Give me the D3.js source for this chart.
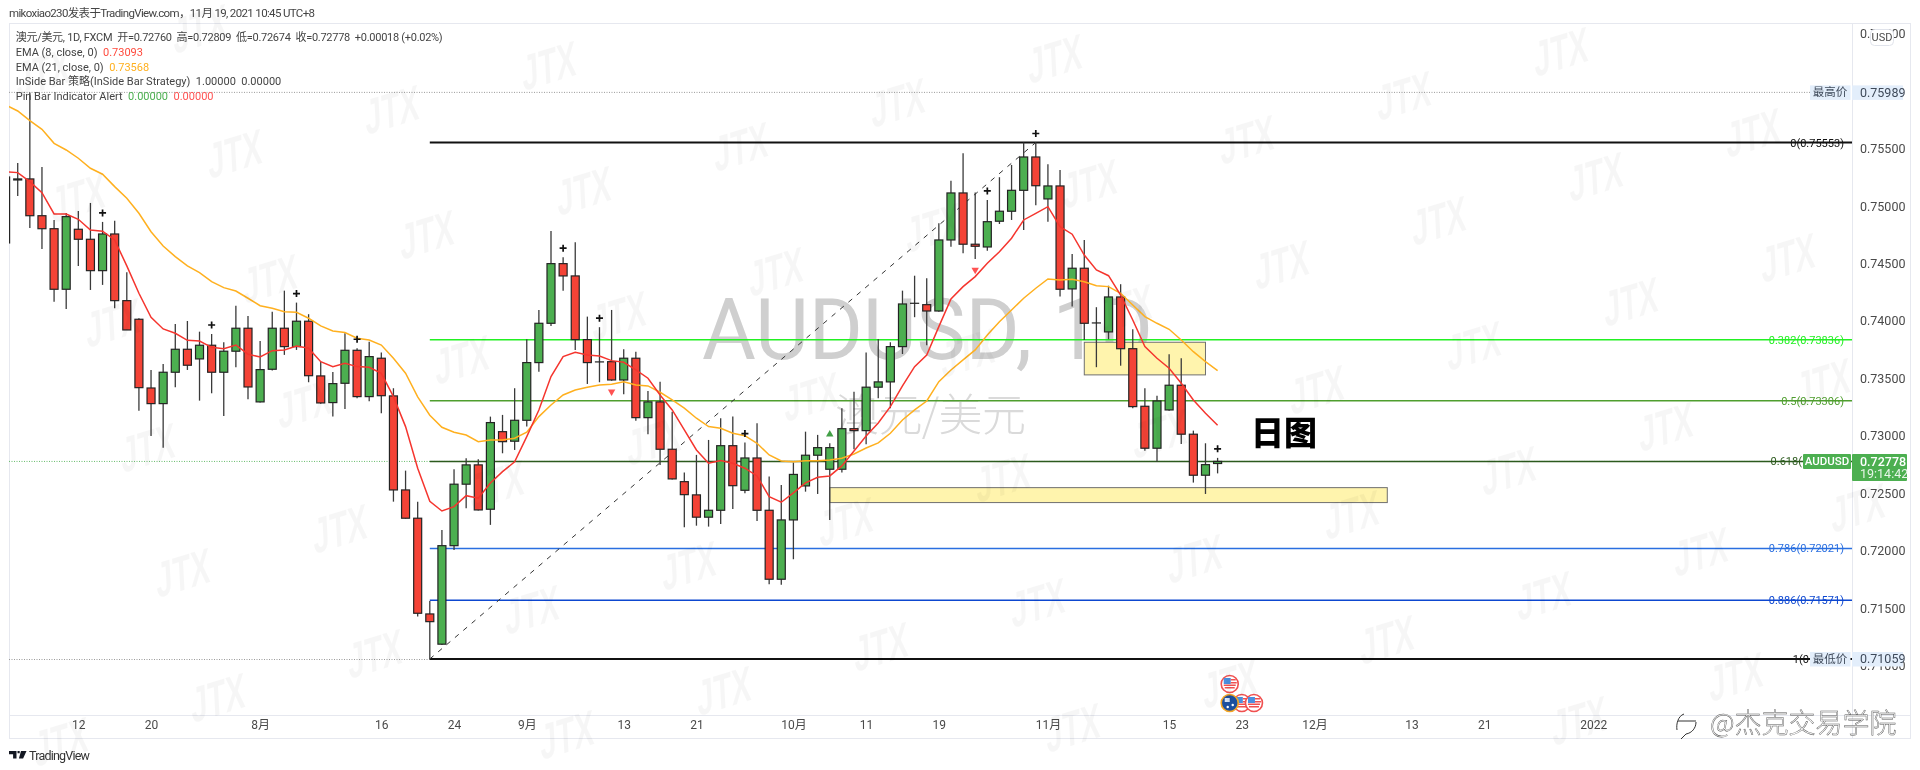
<!DOCTYPE html>
<html lang="zh">
<head>
<meta charset="utf-8">
<title>AUDUSD 1D</title>
<script src="https://cdn.jsdelivr.net/npm/d3@7/dist/d3.min.js"></script>
<style>
html,body{margin:0;padding:0;background:#fff;}
svg{display:block;filter:blur(.35px);}
text{font-family:Roboto,"Noto Sans CJK SC",sans-serif;}
</style>
</head>
<body>
<svg id="chart" width="1920" height="770"></svg>
<script>
const opens = [
.74679,.75227,.75236,.74916,.74803,.74276,.74798,.74711,.74438,.74757,
.74177,.74015,.73417,.73281,.73554,.73754,.73670,.73789,.73554,.73737,
.73937,.73296,.73580,.73937,.73777,.73998,.73522,.73290,.73458,.73745,
.73342,.73676,.73348,.72530,.72284,.71451,.71188,.72045,.72580,.72748,
.72362,.73037,.72954,.73136,.73638,.73980,.74499,.74392,.73838,.73644,
.73646,.73487,.73676,.73159,.73296,.72884,.72602,.72487,.72293,.72353,
.72915,.72527,.72808,.72353,.71753,.72269,.72565,.72832,.72710,.72710,
.73063,.73046,.73424,.73470,.73777,.74154,.74142,.74087,.74705,.75114,
.74668,.74644,.74868,.74955,.75137,.75427,.75062,.75175,.74279,.74459,
.73983,.73905,.74209,.73759,.73258,.72893,.73226,.73441,.73015,.72658,.72760];
const highs = [
.75350,.75375,.75989,.75340,.74879,.74940,.74957,.75027,.74862,.74873,
.74424,.74024,.73574,.73626,.73974,.74000,.73907,.73887,.73815,.74133,
.74044,.73826,.74081,.74264,.74160,.74059,.73646,.73557,.73893,.73763,
.73820,.73725,.73415,.72698,.72428,.71564,.72182,.72710,.72806,.72797,
.73168,.73183,.73415,.73841,.74096,.74783,.74555,.74685,.74038,.73946,
.74096,.73754,.73733,.73391,.73472,.73211,.72681,.72835,.72965,.73154,
.73168,.72942,.73110,.72646,.72574,.72768,.73037,.73009,.72936,.73241,
.73385,.73725,.73844,.73815,.74264,.74394,.74372,.74850,.75221,.75459,
.75117,.75053,.75251,.75358,.75553,.75553,.75364,.75314,.74583,.74705,
.74120,.74307,.74320,.73928,.73415,.73350,.73711,.73676,.73046,.72936,.72809];
const lows = [
.74600,.75088,.74809,.74627,.74168,.74105,.74479,.74270,.74314,.74111,
.73922,.73220,.73000,.72898,.73424,.73574,.73307,.73371,.73174,.73598,
.73319,.73290,.73570,.73705,.73748,.73467,.73280,.73168,.73235,.73328,
.73302,.73197,.72428,.72280,.71428,.71059,.71180,.72008,.72371,.72350,
.72226,.72849,.72878,.73081,.73559,.73957,.74264,.73748,.73452,.73467,
.73480,.73363,.73133,.73015,.72748,.72620,.72206,.72219,.72211,.72234,
.72365,.72501,.72260,.71710,.71704,.71927,.72515,.72495,.72269,.72681,
.72884,.72928,.73328,.73241,.73713,.74033,.73789,.74080,.74647,.74589,
.74540,.74612,.74844,.74879,.74792,.75007,.74864,.74212,.74125,.73835,
.73598,.73841,.73611,.73241,.72872,.72776,.73220,.72930,.72594,.72495,.72674];
const closes = [
.75253,.75236,.74916,.74803,.74276,.74908,.74711,.74438,.74757,.74177,
.73922,.73420,.73281,.73554,.73754,.73615,.73789,.73554,.73737,.73937,
.73426,.73577,.73937,.73777,.73998,.73524,.73287,.73455,.73745,.73342,
.73690,.73350,.72530,.72284,.71457,.71384,.72045,.72580,.72748,.72356,
.73116,.72950,.73136,.73638,.73980,.74499,.74392,.73838,.73638,.73644,
.73487,.73676,.73159,.73296,.72884,.72626,.72489,.72293,.72353,.72915,
.72567,.72808,.72353,.71753,.72269,.72665,.72832,.72898,.72898,.73063,
.73046,.73424,.73470,.73777,.74148,.74154,.74087,.74705,.75114,.74668,
.74650,.74864,.74955,.75137,.75427,.75177,.75175,.74276,.74459,.73980,
.73983,.74209,.73759,.73255,.72893,.73304,.73441,.73015,.72658,.72750,.72778];
const ema8 = [
.75297,.75291,.75212,.75117,.74931,.74931,.74885,.74792,.74781,.74705,
.74479,.74241,.74032,.73931,.73893,.73832,.73826,.73771,.73759,.73791,
.73711,.73687,.73742,.73748,.73783,.73763,.73646,.73603,.73632,.73603,
.73597,.73545,.73342,.73081,.72719,.72431,.72347,.72385,.72480,.72458,
.72591,.72689,.72774,.72994,.73226,.73516,.73690,.73728,.73704,.73696,
.73655,.73641,.73574,.73502,.73356,.73226,.73052,.72878,.72762,.72785,
.72762,.72719,.72652,.72472,.72423,.72504,.72591,.72640,.72652,.72739,
.72869,.73000,.73113,.73255,.73435,.73603,.73704,.73951,.74192,.74299,
.74386,.74502,.74603,.74720,.74879,.74937,.74995,.74821,.74755,.74574,
.74444,.74394,.74226,.74009,.73777,.73676,.73589,.73458,.73313,.73197,.73093];
const ema21 = [
.75879,.75827,.75743,.75668,.75546,.75488,.75416,.75329,.75277,.75169,
.75068,.74937,.74777,.74653,.74560,.74479,.74421,.74342,.74290,.74261,
.74198,.74133,.74111,.74081,.74076,.74024,.73957,.73913,.73899,.73850,
.73835,.73791,.73676,.73545,.73339,.73180,.73075,.73032,.73008,.72950,
.72965,.72965,.72980,.73032,.73168,.73269,.73356,.73400,.73423,.73443,
.73450,.73472,.73443,.73435,.73380,.73313,.73241,.73154,.73081,.73067,
.73023,.73002,.72936,.72834,.72782,.72776,.72785,.72785,.72791,.72806,
.72843,.72895,.72939,.73023,.73139,.73226,.73304,.73472,.73574,.73661,
.73748,.73878,.73994,.74096,.74198,.74285,.74366,.74357,.74363,.74342,
.74307,.74299,.74241,.74139,.74038,.73980,.73928,.73835,.73733,.73646,.73568];

const fibPrices = [.75553,.73836,.73306,.72778,.72021,.71571,.71059];
const fibColors = ["#111111","#22f022","#4f9e2e","#2c5a1e","#2a6fe0","#0d47d0","#111111"];
const fibLabels = ["0(0.75553)","0.382(0.73836)","0.5(0.73306)","0.618(","0.786(0.72021)","0.886(0.71571)","1(0"];
const priceTicks = [.765,.755,.75,.745,.74,.735,.73,.725,.72,.715,.71];
const timeTickBars = [6,12,21,31,37,43,51,57,65,71,77,86,96,102,108,116,122,131];
const timeTickLabels = ["12","20","8月","16","24","9月","13","21","10月","11","19","11月","15","23","12月","13","21","2022"];
const plusBars = [8,17,24,29,46,49,61,81,85,100];
const sellBars = [50,80];
const buyBars = [68];
const boxBarStart = [89,68];
const boxBarEnd = [99,114];
const boxTop = [.73815,.72550];
const boxBottom = [.73531,.72420];
const legendTitle = "澳元/美元, 1D, FXCM  开=0.72760  高=0.72809  低=0.72674  收=0.72778  +0.00018 (+0.02%)";

const svg = d3.select("#chart");
const x = d3.scaleLinear().domain([0,100]).range([5.6,1217.6]);
const y = d3.scaleLinear().domain([.71059,.75553]).range([659,142.5]);
const bars = opens.map((o,i)=>({i,o,h:highs[i],l:lows[i],c:closes[i]}));
const GREEN="#4caf50", RED="#f44336";

svg.append("defs").append("clipPath").attr("id","pane").append("rect")
  .attr("x",9).attr("y",24).attr("width",1843).attr("height",691);

// frame
const frame = svg.append("g").attr("fill","none").attr("stroke","#e6e8ef").attr("stroke-width",1);
frame.append("rect").attr("x",9.5).attr("y",23.5).attr("width",1901).attr("height",715);
frame.append("line").attr("x1",1852.5).attr("x2",1852.5).attr("y1",23).attr("y2",739);
frame.append("line").attr("x1",9).attr("x2",1911).attr("y1",715.5).attr("y2",715.5);

const pane = svg.append("g").attr("clip-path","url(#pane)");

// big symbol watermark
pane.append("text").attr("x",702).attr("y",359).attr("font-size",85).attr("fill","#cfcfcf")
  .attr("textLength",451).attr("lengthAdjust","spacingAndGlyphs")
  .style("font-family","Roboto,sans-serif").text("AUDUSD, 1D");
pane.append("text").attr("x",835).attr("y",431).attr("font-size",44).attr("fill","#dadada")
  .attr("textLength",191).style("font-family","'Noto Sans CJK SC',sans-serif").style("font-weight",300).text("澳元/美元");

// dotted reference lines
const dotted = pane.append("g").attr("fill","none").attr("stroke-width",1);
dotted.append("line").attr("x1",9).attr("x2",1810).attr("y1",y(.75989)).attr("y2",y(.75989))
  .attr("stroke","#9a9a9a").attr("stroke-dasharray","1,1.5");
dotted.append("line").attr("x1",9).attr("x2",1810).attr("y1",y(.71059)+.5).attr("y2",y(.71059)+.5)
  .attr("stroke","#9a9a9a").attr("stroke-dasharray","1,1.5");
dotted.append("line").attr("x1",9).attr("x2",1852).attr("y1",y(.72778)).attr("y2",y(.72778))
  .attr("stroke","#66bb6a").attr("stroke-dasharray","1,1.5");

// yellow rectangles
pane.append("g").selectAll("rect").data(boxTop).join("rect")
  .attr("x",(d,i)=>x(boxBarStart[i])).attr("width",(d,i)=>x(boxBarEnd[i])-x(boxBarStart[i]))
  .attr("y",d=>y(d)).attr("height",(d,i)=>y(boxBottom[i])-y(d))
  .attr("fill","#fff4ad").attr("stroke","#6f6f6f").attr("stroke-width",1);

// fib levels
pane.append("g").selectAll("line").data(fibPrices).join("line")
  .attr("x1",x(35)).attr("x2",1852).attr("y1",d=>y(d)).attr("y2",d=>y(d))
  .attr("stroke",(d,i)=>fibColors[i]).attr("stroke-width",(d,i)=>(i===0||i===6)?1.8:1.5);
pane.append("line").attr("x1",x(35)).attr("y1",y(.71059)).attr("x2",x(85)).attr("y2",y(.75553))
  .attr("stroke","#333").attr("stroke-width",1).attr("stroke-dasharray","5,6");

// candles
const cg = pane.append("g");
cg.selectAll("line").data(bars).join("line")
  .attr("x1",d=>x(d.i)).attr("x2",d=>x(d.i)).attr("y1",d=>y(d.h)).attr("y2",d=>y(d.l))
  .attr("stroke","#3a3a3a").attr("stroke-width",1.3);
cg.selectAll("rect").data(bars).join("rect")
  .attr("x",d=>x(d.i)-4).attr("width",8)
  .attr("y",d=>y(Math.max(d.o,d.c)))
  .attr("height",d=>Math.max(.01,y(Math.min(d.o,d.c))-y(Math.max(d.o,d.c))))
  .attr("fill",d=>d.c>=d.o?GREEN:RED).attr("stroke","#242424").attr("stroke-width",1.2);

// EMAs
const line = d3.line().x((d,i)=>x(i)).y(d=>y(d));
pane.append("path").datum(ema21).attr("d",line).attr("fill","none").attr("stroke","#ffb01f").attr("stroke-width",1.5);
pane.append("path").datum(ema8).attr("d",line).attr("fill","none").attr("stroke","#f5352e").attr("stroke-width",1.5);

// markers
pane.append("g").selectAll("path").data(plusBars).join("path")
  .attr("transform",d=>`translate(${x(d)},${y(highs[d])-9})`)
  .attr("d","M-3.5,0H3.5M0,-3.5V3.5").attr("stroke","#111").attr("stroke-width",1.7).attr("fill","none");
const tri = d3.symbol(d3.symbolTriangle,24);
pane.append("g").selectAll("path").data(sellBars).join("path")
  .attr("transform",d=>`translate(${x(d)},${y(lows[d])+11}) rotate(180)`).attr("d",tri).attr("fill","#ff5252");
pane.append("g").selectAll("path").data(buyBars).join("path")
  .attr("transform",d=>`translate(${x(d)},${y(highs[d])-9})`).attr("d",tri).attr("fill","#43a047");

// fib labels: the last price tag hides the tail of two of them, so they end before it
pane.append("g").selectAll("text").data(fibLabels).join("text")
  .attr("x",d=>d==="0.618("?1802:(d==="1(0"?1809:1844)).attr("y",(d,i)=>y(fibPrices[i])+4).attr("text-anchor","end")
  .attr("font-size",11).attr("fill",(d,i)=>fibColors[i]).text(d=>d);

// annotation
svg.append("text").attr("x",1251).attr("y",445).attr("font-size",33).attr("font-weight",900).attr("fill","#000")
  .style("font-family","'Noto Sans CJK SC',sans-serif").text("日图");

// event icons
function usIcon(g,cx,cy){
  const n=g.append("g").attr("transform",`translate(${cx},${cy})`);
  n.append("circle").attr("r",8.5).attr("fill","#fff").attr("stroke","#f05050").attr("stroke-width",1.6);
  n.append("rect").attr("x",-6).attr("y",-6).attr("width",7).attr("height",6).attr("fill","#4a8fe0");
  [[-6,.5,12],[1,-5,5],[1,-2,6],[-5,3,10]].forEach(s=>n.append("rect").attr("x",s[0]).attr("y",s[1]).attr("width",s[2]).attr("height",1.5).attr("fill","#f05050"));
}
const ev = svg.append("g");
usIcon(ev,x(101),684);
usIcon(ev,x(102),703);
usIcon(ev,x(103),703);
const au=ev.append("g").attr("transform",`translate(${x(101)},703)`);
au.append("circle").attr("r",8.5).attr("fill","#1d4f9e").attr("stroke","#f5a623").attr("stroke-width",1.6);
au.append("rect").attr("x",-5).attr("y",-5).attr("width",5).attr("height",4).attr("fill","#d8e4f5");
au.append("circle").attr("cx",3).attr("cy",2).attr("r",1.2).attr("fill","#fff");
au.append("circle").attr("cx",-2).attr("cy",4).attr("r",1.2).attr("fill","#fff");

// axes
const yAxis = svg.append("g").attr("transform","translate(1860,0)")
  .call(d3.axisRight(y).tickValues(priceTicks).tickSize(0).tickPadding(0).tickFormat(d3.format(".5f")));
yAxis.select(".domain").remove();
yAxis.selectAll("text").attr("font-size",12.5).attr("fill","#4a4a4a").style("font-family","Roboto,sans-serif");
const xAxis = svg.append("g").attr("transform","translate(0,720)")
  .call(d3.axisBottom(x).tickValues(timeTickBars).tickSize(0).tickPadding(0).tickFormat((d,i)=>timeTickLabels[i]));
xAxis.select(".domain").remove();
xAxis.selectAll("text").attr("font-size",12).attr("fill","#4a4a4a").style("font-family","Roboto,'Noto Sans CJK SC',sans-serif");

// price tags
function tag(xp,w,yt,h,fill){ return svg.append("rect").attr("x",xp).attr("y",yt).attr("width",w).attr("height",h).attr("fill",fill); }
[[.75989,"最高价"],[.71059,"最低价"]].forEach(([p,name])=>{
  const c=y(p);
  tag(1810,40.5,c-7,14.5,"#e3eefb");
  tag(1852,51,c-7,14.5,"#e3eefb");
  svg.append("text").attr("x",1830).attr("y",c+4).attr("text-anchor","middle").attr("font-size",11.5).attr("fill","#3f4a5a").text(name);
  svg.append("text").attr("x",1860).attr("y",c+4.3).attr("font-size",12.5).attr("fill","#3f4a5a").text(d3.format(".5f")(p));
});
const cy = y(.72778);
tag(1803,48,cy-7.5,15,GREEN).attr("rx",1);
svg.append("text").attr("x",1827).attr("y",cy+4).attr("text-anchor","middle").attr("font-size",11.5).attr("font-weight",500).attr("fill","#fff").text("AUDUSD");
tag(1852,55,cy-7.5,27,GREEN).attr("rx",1);
svg.append("text").attr("x",1860).attr("y",cy+4.3).attr("font-size",12.5).attr("font-weight",500).attr("fill","#fff").text("0.72778");
svg.append("text").attr("x",1860).attr("y",cy+16.5).attr("font-size",12.5).attr("fill","#e7f5e8").text("19:14:42");
svg.append("rect").attr("x",1870.5).attr("y",29.5).attr("width",23).attr("height",16).attr("rx",4).attr("fill","#fff").attr("stroke","#e0e3eb");
svg.append("text").attr("x",1882).attr("y",41).attr("text-anchor","middle").attr("font-size",11).attr("fill","#4a4a4a").text("USD");

// header and legend
const ink="#444";
svg.append("text").attr("x",9).attr("y",17).attr("font-size",11.5).attr("fill",ink).attr("textLength",306)
  .text("mikoxiao230发表于TradingView.com，11月 19, 2021 10:45 UTC+8");
const lg = svg.append("g").attr("font-size",11).attr("fill",ink);
lg.append("text").attr("x",15.7).attr("y",41).attr("textLength",427).style("white-space","pre").text(legendTitle);
function legendRow(yp,parts){
  const t=lg.append("text").attr("x",15.7).attr("y",yp).style("white-space","pre");
  parts.forEach(([s,c])=>{const sp=t.append("tspan").text(s); if(c) sp.attr("fill",c);});
}
legendRow(56,[["EMA (8, close, 0)  "],["0.73093","#ff4a3d"]]);
legendRow(70.5,[["EMA (21, close, 0)  "],["0.73568","#ffb01f"]]);
legendRow(85,[["InSide Bar 策略(InSide Bar Strategy)  1.00000  0.00000"]]);
legendRow(100,[["Pin Bar Indicator Alert  "],["0.00000","#4caf50"],["  "],["0.00000","#ff5252"]]);

// TradingView logo
const tv = svg.append("g").attr("fill","#131722");
tv.append("path").attr("d","M9 751h7.5v7.5h-3.4v-4.3H9zM17.5 751h2.2v2.2h-2.2zM21 751h5.5l-3.4 7.5h-4.2z");
svg.append("text").attr("x",29).attr("y",759.5).attr("font-size",12.5).attr("fill","#333").attr("textLength",61).text("TradingView");

// tiled logo overlay
const wm = svg.append("g").attr("fill","#000").attr("fill-opacity",.035);
const tiles=[];
for(let a=-8;a<=14;a++)for(let b=-6;b<=8;b++){
  const px=235+157*a+35*b, py=153-44*a+125*b;
  if(px>36&&px<1884&&py>26&&py<744) tiles.push([px,py]);
}
wm.selectAll("text").data(tiles).join("text")
  .attr("transform",d=>`translate(${d[0]},${d[1]}) rotate(-17) skewX(-14) scale(.85,1.35)`)
  .attr("text-anchor","middle").attr("dy","0.36em")
  .attr("font-size",36).attr("font-weight",800).style("font-family","'Liberation Sans',sans-serif").text("JTX");

// brand mark bottom right
svg.append("text").attr("x",1710).attr("y",733).attr("font-size",27)
  .attr("fill","#fff").attr("stroke","#555").attr("stroke-width",.45)
  .style("font-family","'Noto Sans CJK SC',sans-serif").style("font-weight",300).text("@杰克交易学院");
svg.append("path").attr("d","M1684 714c-6 2-8 10-7 16M1678 721h18M1696 722c0 6-4 11-10 12l-5 5")
  .attr("fill","none").attr("stroke","#333").attr("stroke-width",1);
</script>
</body>
</html>
